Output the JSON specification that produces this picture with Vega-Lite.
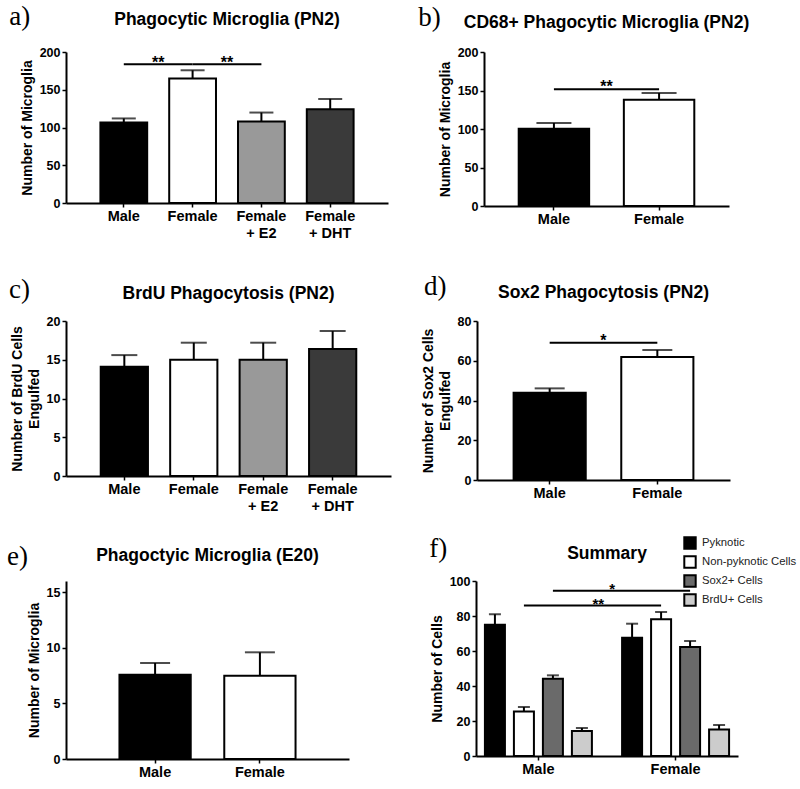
{
  "$schema": "https://vega.github.io/schema/vega-lite/v6.json",
  "background": "white",
  "padding": {"left": 7, "top": 2, "right": 0, "bottom": 0},
  "config": {
    "font": "Liberation Sans",
    "view": {"stroke": null},
    "axis": {"grid": false, "domainColor": "#000", "domainWidth": 2, "tickColor": "#000", "tickWidth": 1.5, "tickSize": 4, "labelColor": "#000", "labelFontWeight": "bold", "titleColor": "#000", "titleFontWeight": "bold", "titleFontSize": 14, "labelFont": "Liberation Sans", "titleFont": "Liberation Sans"},
    "axisX": {"labelFontSize": 14.5, "labelPadding": 2, "labelAngle": 0},
    "axisY": {"labelFontSize": 12.5, "labelPadding": 2, "titlePadding": 5},
    "title": {"font": "Liberation Sans", "fontSize": 17.5, "fontWeight": "bold", "color": "#000"},
    "bar": {"stroke": "#000", "strokeWidth": 2},
    "rule": {"color": "#000", "strokeWidth": 2},
    "tick": {"color": "#000", "thickness": 2},
    "text": {"color": "#000"}
  },
  "resolve": {"scale": {"fill": "independent"}, "legend": {"fill": "independent"}},
  "spacing": 32,
  "vconcat": [
    {
      "spacing": 30,
      "resolve": {"scale": {"fill": "independent"}, "legend": {"fill": "independent"}},
      "hconcat": [
        {
          "title": {"text": "a)", "anchor": "start", "frame": "bounds", "font": "Liberation Serif", "fontSize": 27, "fontWeight": "normal", "baseline": "alphabetic", "offset": 0, "dy": 41, "dx": -11},
          "vconcat": [
            {
              "width": 322, "height": 151,
              "title": {"text": "Phagocytic Microglia (PN2)", "offset": 18},
              "layer": [
                {
                  "data": {"values": [
                    {"group": "Male", "value": 106.6, "upper": 112},
                    {"group": "Female", "value": 164.8, "upper": 175.8},
                    {"group": "Female + E2", "value": 108, "upper": 119.8},
                    {"group": "Female + DHT", "value": 124.2, "upper": 137.9}
                  ]},
                  "layer": [
                    {"mark": "bar", "encoding": {
                      "x": {"field": "group", "type": "nominal", "sort": null, "scale": {"domain": ["Male", "Female", "Female + E2", "Female + DHT"], "paddingInner": 0.32, "paddingOuter": 0.5}, "axis": {"title": null, "labelLineHeight": 17, "labelExpr": "datum.value == 'Female + E2' ? ['Female', '+ E2'] : datum.value == 'Female + DHT' ? ['Female', '+ DHT'] : datum.label"}},
                      "y": {"field": "value", "type": "quantitative", "scale": {"domain": [0, 200]}, "axis": {"title": "Number of Microglia", "values": [0, 50, 100, 150, 200], "tickCount": 10, "labelOverlap": false}},
                      "fill": {"field": "group", "type": "nominal", "scale": {"domain": ["Male", "Female", "Female + E2", "Female + DHT"], "range": ["#000000", "#ffffff", "#999999", "#3a3a3a"]}, "legend": null}
                    }},
                    {"mark": "rule", "encoding": {
                      "x": {"field": "group", "type": "nominal", "sort": null},
                      "y": {"field": "value", "type": "quantitative"},
                      "y2": {"field": "upper"}
                    }},
                    {"mark": {"type": "tick", "size": 24}, "encoding": {
                      "x": {"field": "group", "type": "nominal", "sort": null},
                      "y": {"field": "upper", "type": "quantitative"}
                    }}
                  ]
                },
                {
                  "data": {"values": [
                    {"x1": "Male", "x2": "Female", "y": 183.7, "label": "**"},
                    {"x1": "Female", "x2": "Female + E2", "y": 183.7, "label": "**"}
                  ]},
                  "layer": [
                    {"mark": "rule", "encoding": {
                      "x": {"field": "x1", "type": "nominal", "sort": null, "bandPosition": 0.5},
                      "x2": {"field": "x2", "bandPosition": 0.5},
                      "y": {"field": "y", "type": "quantitative"}
                    }},
                    {"mark": {"type": "text", "fontSize": 16, "fontWeight": "bold", "baseline": "alphabetic", "dy": 4}, "encoding": {
                      "x": {"field": "x1", "type": "nominal", "sort": null, "bandPosition": 1.235},
                      "y": {"field": "y", "type": "quantitative"},
                      "text": {"field": "label"}
                    }}
                  ]
                }
              ]
            }
          ]
        },
        {
          "title": {"text": "b)", "anchor": "start", "frame": "bounds", "font": "Liberation Serif", "fontSize": 27, "fontWeight": "normal", "baseline": "alphabetic", "offset": 0, "dy": 39, "dx": -20},
          "vconcat": [
            {
              "width": 245, "height": 154,
              "title": {"text": "CD68+ Phagocytic Microglia (PN2)", "offset": 15},
              "layer": [
                {
                  "data": {"values": [
                    {"group": "Male", "value": 100.4, "upper": 107.8},
                    {"group": "Female", "value": 138, "upper": 146.8}
                  ]},
                  "layer": [
                    {"mark": "bar", "encoding": {
                      "x": {"field": "group", "type": "nominal", "sort": null, "scale": {"domain": ["Male", "Female"], "paddingInner": 0.33, "paddingOuter": 0.33}, "axis": {"title": null}},
                      "y": {"field": "value", "type": "quantitative", "scale": {"domain": [0, 200]}, "axis": {"title": "Number of Microglia", "values": [0, 50, 100, 150, 200], "tickCount": 10, "labelOverlap": false}},
                      "fill": {"field": "group", "type": "nominal", "scale": {"domain": ["Male", "Female"], "range": ["#000000", "#ffffff"]}, "legend": null}
                    }},
                    {"mark": "rule", "encoding": {
                      "x": {"field": "group", "type": "nominal", "sort": null},
                      "y": {"field": "value", "type": "quantitative"},
                      "y2": {"field": "upper"}
                    }},
                    {"mark": {"type": "tick", "size": 35}, "encoding": {
                      "x": {"field": "group", "type": "nominal", "sort": null},
                      "y": {"field": "upper", "type": "quantitative"}
                    }}
                  ]
                },
                {
                  "data": {"values": [
                    {"x1": "Male", "x2": "Female", "y": 151.5, "label": "**"}
                  ]},
                  "layer": [
                    {"mark": "rule", "encoding": {
                      "x": {"field": "x1", "type": "nominal", "sort": null, "bandPosition": 0.5},
                      "x2": {"field": "x2", "bandPosition": 0.5},
                      "y": {"field": "y", "type": "quantitative"}
                    }},
                    {"mark": {"type": "text", "fontSize": 16, "fontWeight": "bold", "baseline": "alphabetic", "dy": 3}, "encoding": {
                      "x": {"field": "x1", "type": "nominal", "sort": null, "bandPosition": 1.246},
                      "y": {"field": "y", "type": "quantitative"},
                      "text": {"field": "label"}
                    }}
                  ]
                }
              ]
            }
          ]
        }
      ]
    },
    {
      "spacing": 22,
      "resolve": {"scale": {"fill": "independent"}, "legend": {"fill": "independent"}},
      "vconcat": [
        {
          "spacing": 30,
          "resolve": {"scale": {"fill": "independent"}, "legend": {"fill": "independent"}},
          "hconcat": [
            {
              "title": {"text": "c)", "anchor": "start", "frame": "bounds", "font": "Liberation Serif", "fontSize": 27, "fontWeight": "normal", "baseline": "alphabetic", "offset": 0, "dy": 40, "dx": -1},
              "vconcat": [
                {
                  "width": 325, "height": 155,
                  "title": {"text": "BrdU Phagocytosis (PN2)", "offset": 13},
                  "data": {"values": [
                    {"group": "Male", "value": 14.1, "upper": 15.6},
                    {"group": "Female", "value": 15.0, "upper": 17.2},
                    {"group": "Female + E2", "value": 15.0, "upper": 17.2},
                    {"group": "Female + DHT", "value": 16.4, "upper": 18.7}
                  ]},
                  "layer": [
                    {"mark": "bar", "encoding": {
                      "x": {"field": "group", "type": "nominal", "sort": null, "scale": {"domain": ["Male", "Female", "Female + E2", "Female + DHT"], "paddingInner": 0.32, "paddingOuter": 0.5}, "axis": {"title": null, "labelLineHeight": 17, "labelExpr": "datum.value == 'Female + E2' ? ['Female', '+ E2'] : datum.value == 'Female + DHT' ? ['Female', '+ DHT'] : datum.label"}},
                      "y": {"field": "value", "type": "quantitative", "scale": {"domain": [0, 20]}, "axis": {"title": ["Number of BrdU Cells", "Engulfed"], "titleLineHeight": 17, "values": [0, 5, 10, 15, 20], "tickCount": 10, "labelOverlap": false}},
                      "fill": {"field": "group", "type": "nominal", "scale": {"domain": ["Male", "Female", "Female + E2", "Female + DHT"], "range": ["#000000", "#ffffff", "#999999", "#3a3a3a"]}, "legend": null}
                    }},
                    {"mark": "rule", "encoding": {
                      "x": {"field": "group", "type": "nominal", "sort": null},
                      "y": {"field": "value", "type": "quantitative"},
                      "y2": {"field": "upper"}
                    }},
                    {"mark": {"type": "tick", "size": 26}, "encoding": {
                      "x": {"field": "group", "type": "nominal", "sort": null},
                      "y": {"field": "upper", "type": "quantitative"}
                    }}
                  ]
                }
              ]
            },
            {
              "title": {"text": "d)", "anchor": "start", "frame": "bounds", "font": "Liberation Serif", "fontSize": 27, "fontWeight": "normal", "baseline": "alphabetic", "offset": 0, "dy": 38, "dx": 3},
              "vconcat": [
                {
                  "width": 253, "height": 159,
                  "title": {"text": "Sox2 Phagocytosis (PN2)", "offset": 14},
                  "layer": [
                    {
                      "data": {"values": [
                        {"group": "Male", "value": 43.9, "upper": 46.1},
                        {"group": "Female", "value": 61.9, "upper": 65.4}
                      ]},
                      "layer": [
                        {"mark": "bar", "encoding": {
                          "x": {"field": "group", "type": "nominal", "sort": null, "scale": {"domain": ["Male", "Female"], "paddingInner": 0.33, "paddingOuter": 0.34}, "axis": {"title": null}},
                          "y": {"field": "value", "type": "quantitative", "scale": {"domain": [0, 80]}, "axis": {"title": ["Number of Sox2 Cells", "Engulfed"], "titleLineHeight": 17, "values": [0, 20, 40, 60, 80], "tickCount": 10, "labelOverlap": false}},
                          "fill": {"field": "group", "type": "nominal", "scale": {"domain": ["Male", "Female"], "range": ["#000000", "#ffffff"]}, "legend": null}
                        }},
                        {"mark": "rule", "encoding": {
                          "x": {"field": "group", "type": "nominal", "sort": null},
                          "y": {"field": "value", "type": "quantitative"},
                          "y2": {"field": "upper"}
                        }},
                        {"mark": {"type": "tick", "size": 30}, "encoding": {
                          "x": {"field": "group", "type": "nominal", "sort": null},
                          "y": {"field": "upper", "type": "quantitative"}
                        }}
                      ]
                    },
                    {
                      "data": {"values": [
                        {"x1": "Male", "x2": "Female", "y": 69.1, "label": "*"}
                      ]},
                      "layer": [
                        {"mark": "rule", "encoding": {
                          "x": {"field": "x1", "type": "nominal", "sort": null, "bandPosition": 0.5},
                          "x2": {"field": "x2", "bandPosition": 0.5},
                          "y": {"field": "y", "type": "quantitative"}
                        }},
                        {"mark": {"type": "text", "fontSize": 16, "fontWeight": "bold", "baseline": "alphabetic", "dy": 3}, "encoding": {
                          "x": {"field": "x1", "type": "nominal", "sort": null, "bandPosition": 1.246},
                          "y": {"field": "y", "type": "quantitative"},
                          "text": {"field": "label"}
                        }}
                      ]
                    }
                  ]
                }
              ]
            }
          ]
        },
        {
          "spacing": 80,
          "resolve": {"scale": {"fill": "independent"}, "legend": {"fill": "independent"}},
          "hconcat": [
            {
              "title": {"text": "e)", "anchor": "start", "frame": "bounds", "font": "Liberation Serif", "fontSize": 27, "fontWeight": "normal", "baseline": "alphabetic", "offset": 0, "dy": 45, "dx": -20},
              "vconcat": [
                {
                  "width": 283, "height": 178,
                  "title": {"text": "Phagoctyic Microglia (E20)", "offset": 17},
                  "data": {"values": [
                    {"group": "Male", "value": 7.57, "upper": 8.63},
                    {"group": "Female", "value": 7.48, "upper": 9.59}
                  ]},
                  "layer": [
                    {"mark": "bar", "encoding": {
                      "x": {"field": "group", "type": "nominal", "sort": null, "scale": {"domain": ["Male", "Female"], "paddingInner": 0.32, "paddingOuter": 0.51}, "axis": {"title": null}},
                      "y": {"field": "value", "type": "quantitative", "scale": {"domain": [0, 15]}, "axis": {"title": "Number of Microglia", "values": [0, 5, 10, 15], "tickCount": 10, "labelOverlap": false}},
                      "fill": {"field": "group", "type": "nominal", "scale": {"domain": ["Male", "Female"], "range": ["#000000", "#ffffff"]}, "legend": null}
                    }},
                    {"mark": "rule", "encoding": {
                      "x": {"field": "group", "type": "nominal", "sort": null},
                      "y": {"field": "value", "type": "quantitative"},
                      "y2": {"field": "upper"}
                    }},
                    {"mark": {"type": "tick", "size": 30}, "encoding": {
                      "x": {"field": "group", "type": "nominal", "sort": null},
                      "y": {"field": "upper", "type": "quantitative"}
                    }}
                  ]
                }
              ]
            },
            {
              "title": {"text": "f)", "anchor": "start", "frame": "bounds", "font": "Liberation Serif", "fontSize": 27, "fontWeight": "normal", "baseline": "alphabetic", "offset": 0, "dy": 48, "dx": -1},
              "resolve": {"scale": {"fill": "independent"}, "legend": {"fill": "independent"}},
              "vconcat": [
                {
                  "width": 262, "height": 175,
                  "title": {"text": "Summary", "offset": -26},
                  "layer": [
                    {
                      "data": {"values": [
                        {"sex": "Male", "type": "Pyknotic", "value": 75.0, "upper": 81.0},
                        {"sex": "Male", "type": "Non-pyknotic Cells", "value": 25.5, "upper": 28.0},
                        {"sex": "Male", "type": "Sox2+ Cells", "value": 44.2, "upper": 46.1},
                        {"sex": "Male", "type": "BrdU+ Cells", "value": 14.3, "upper": 16.0},
                        {"sex": "Female", "type": "Pyknotic", "value": 67.6, "upper": 75.6},
                        {"sex": "Female", "type": "Non-pyknotic Cells", "value": 78.1, "upper": 82.3},
                        {"sex": "Female", "type": "Sox2+ Cells", "value": 62.3, "upper": 65.7},
                        {"sex": "Female", "type": "BrdU+ Cells", "value": 15.2, "upper": 17.7}
                      ]},
                      "layer": [
                        {"mark": "bar", "encoding": {
                          "x": {"field": "sex", "type": "nominal", "sort": null, "scale": {"domain": ["Male", "Female"], "paddingInner": 0.22, "paddingOuter": 0.065}, "axis": {"title": null}},
                          "xOffset": {"field": "type", "type": "nominal", "sort": null, "scale": {"domain": ["Pyknotic", "Non-pyknotic Cells", "Sox2+ Cells", "BrdU+ Cells"], "paddingInner": 0.31, "paddingOuter": 0}},
                          "y": {"field": "value", "type": "quantitative", "scale": {"domain": [0, 100]}, "axis": {"title": "Number of Cells", "values": [0, 20, 40, 60, 80, 100], "tickCount": 10, "labelOverlap": false}},
                          "fill": {"field": "type", "type": "nominal", "scale": {"domain": ["Pyknotic", "Non-pyknotic Cells", "Sox2+ Cells", "BrdU+ Cells"], "range": ["#000000", "#ffffff", "#6a6a6a", "#cccccc"]}, "legend": {"orient": "none", "legendX": 207, "legendY": -45, "title": null, "padding": 0, "symbolType": "square", "symbolSize": 130, "symbolStrokeColor": "#000", "symbolStrokeWidth": 1.5, "labelFontSize": 11.3, "labelFont": "Liberation Sans", "labelFontWeight": "normal", "labelColor": "#222", "rowPadding": -1, "labelOffset": 5, "labelLimit": 200}}
                        }},
                        {"mark": "rule", "encoding": {
                          "x": {"field": "sex", "type": "nominal", "sort": null},
                          "xOffset": {"field": "type", "type": "nominal", "sort": null},
                          "y": {"field": "value", "type": "quantitative"},
                          "y2": {"field": "upper"}
                        }},
                        {"mark": {"type": "tick", "size": 12}, "encoding": {
                          "x": {"field": "sex", "type": "nominal", "sort": null},
                          "xOffset": {"field": "type", "type": "nominal", "sort": null},
                          "y": {"field": "upper", "type": "quantitative"}
                        }}
                      ]
                    },
                    {
                      "data": {"values": [
                        {"x1": "Male", "x2": "Female", "y": 86.0, "label": "**"},
                        {"x1": "Male", "x2": "Female", "y": 94.5, "label": "*"}
                      ]},
                      "layer": [
                        {"transform": [{"filter": "datum.label == '**'"}], "mark": "rule", "encoding": {
                          "x": {"field": "x1", "type": "nominal", "sort": null, "bandPosition": 0.3645},
                          "x2": {"field": "x2", "bandPosition": 0.3645},
                          "y": {"field": "y", "type": "quantitative"}
                        }},
                        {"transform": [{"filter": "datum.label == '*'"}], "mark": "rule", "encoding": {
                          "x": {"field": "x1", "type": "nominal", "sort": null, "bandPosition": 0.6355},
                          "x2": {"field": "x2", "bandPosition": 0.6355},
                          "y": {"field": "y", "type": "quantitative"}
                        }},
                        {"transform": [{"filter": "datum.label == '**'"}], "mark": {"type": "text", "fontSize": 15, "fontWeight": "bold", "baseline": "alphabetic", "dy": 3}, "encoding": {
                          "x": {"field": "x1", "type": "nominal", "sort": null, "bandPosition": 1.06},
                          "y": {"field": "y", "type": "quantitative"},
                          "text": {"field": "label"}
                        }},
                        {"transform": [{"filter": "datum.label == '*'"}], "mark": {"type": "text", "fontSize": 15, "fontWeight": "bold", "baseline": "alphabetic", "dy": 3}, "encoding": {
                          "x": {"field": "x1", "type": "nominal", "sort": null, "bandPosition": 1.19},
                          "y": {"field": "y", "type": "quantitative"},
                          "text": {"field": "label"}
                        }}
                      ]
                    }
                  ]
                }
              ]
            }
          ]
        }
      ]
    }
  ]
}
